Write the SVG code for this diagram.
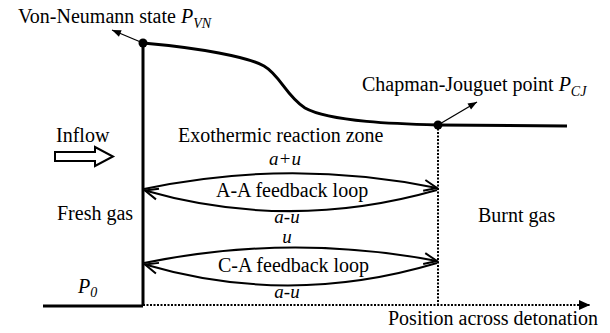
<svg xmlns="http://www.w3.org/2000/svg" width="610" height="333" viewBox="0 0 610 333">
<style>
text{font-family:"Liberation Serif","Times New Roman","DejaVu Serif",serif;font-size:20px;fill:#000}
.it{font-style:italic}
.lbl{font-style:italic;font-size:19px}
.sub{font-size:14px;font-style:italic}
.thick{fill:none;stroke:#000;stroke-width:3}
.loop{fill:none;stroke:#000;stroke-width:2}
.dot{fill:none;stroke:#000;stroke-width:2;stroke-dasharray:2 1.5}
.thin{fill:none;stroke:#000;stroke-width:1.3}
</style>
<defs>
<marker id="chev" viewBox="-14 -7 16 14" markerWidth="16" markerHeight="14" refX="0" refY="0" orient="auto" markerUnits="userSpaceOnUse">
<path d="M-13,-5.5 L0,0 L-13,5.5" fill="none" stroke="#000" stroke-width="2"/>
</marker>
<marker id="tri" viewBox="-12 -6 13 12" markerWidth="13" markerHeight="12" refX="0" refY="0" orient="auto" markerUnits="userSpaceOnUse">
<path d="M-11,-5 L0,0 L-11,5 Z" fill="#000"/>
</marker>
<marker id="small" viewBox="-10 -5 11 10" markerWidth="11" markerHeight="10" refX="0" refY="0" orient="auto" markerUnits="userSpaceOnUse">
<path d="M-9,-3.5 L0,0 L-9,3.5 Z" fill="#000"/>
</marker>
</defs>
<g id="connectors">
<path class="thick" d="M143,43 C200,48 248,57 264,66 C280,75 286,96 305,108 C330,122 400,124 438,125 L567,126"/>
<path class="thick" d="M143,43 L143,306"/>
<path class="thick" d="M43,306 L143,306"/>
<path class="dot" d="M143,305 L590,305" marker-end="url(#tri)"/>
<path class="dot" d="M438,125 L438,305"/>
<path class="thin" d="M143,43 L112,30" marker-end="url(#small)"/>
<path class="thin" d="M438,125 L477,102" marker-end="url(#small)"/>
<path class="loop" d="M144,189 Q290,158 437,188" marker-end="url(#chev)"/>
<path class="loop" d="M437,190 Q290,232 145,190.5" marker-end="url(#chev)"/>
<path class="loop" d="M144,263 Q290,233 437,261" marker-end="url(#chev)"/>
<path class="loop" d="M437,263 Q290,307 145,264.5" marker-end="url(#chev)"/>
<path d="M55,152 L95,152 L95,147 L113,156.5 L95,166 L95,161 L55,161 Z" fill="#fff" stroke="#000" stroke-width="2"/>
</g>
<g id="vn-point"><circle cx="143" cy="43" r="4.5" fill="#000"/><text x="18" y="23">Von-Neumann state <tspan class="it">P</tspan><tspan class="sub" dy="5">VN</tspan></text></g>
<g id="cj-point"><circle cx="438" cy="125" r="4.5" fill="#000"/><text x="362" y="91">Chapman-Jouguet point <tspan class="it">P</tspan><tspan class="sub" dy="5">CJ</tspan></text></g>
<g id="inflow"><text x="56" y="142">Inflow</text></g>
<g id="zone"><text x="178" y="142">Exothermic reaction zone</text></g>
<g id="aa-loop">
<text class="lbl" x="285" y="165" text-anchor="middle">a+u</text>
<text x="216" y="197">A-A feedback loop</text>
<text class="lbl" x="287" y="223" text-anchor="middle">a-u</text>
</g>
<g id="ca-loop">
<text class="lbl" x="287" y="243" text-anchor="middle">u</text>
<text x="218" y="272">C-A feedback loop</text>
<text class="lbl" x="287" y="298" text-anchor="middle">a-u</text>
</g>
<g id="fresh"><text x="57" y="220">Fresh gas</text></g>
<g id="burnt"><text x="478" y="222">Burnt gas</text></g>
<g id="p0"><text x="78" y="293"><tspan class="it">P</tspan><tspan class="sub" dy="4">0</tspan></text></g>
<g id="axis"><text x="388" y="325">Position across detonation</text></g>
</svg>
